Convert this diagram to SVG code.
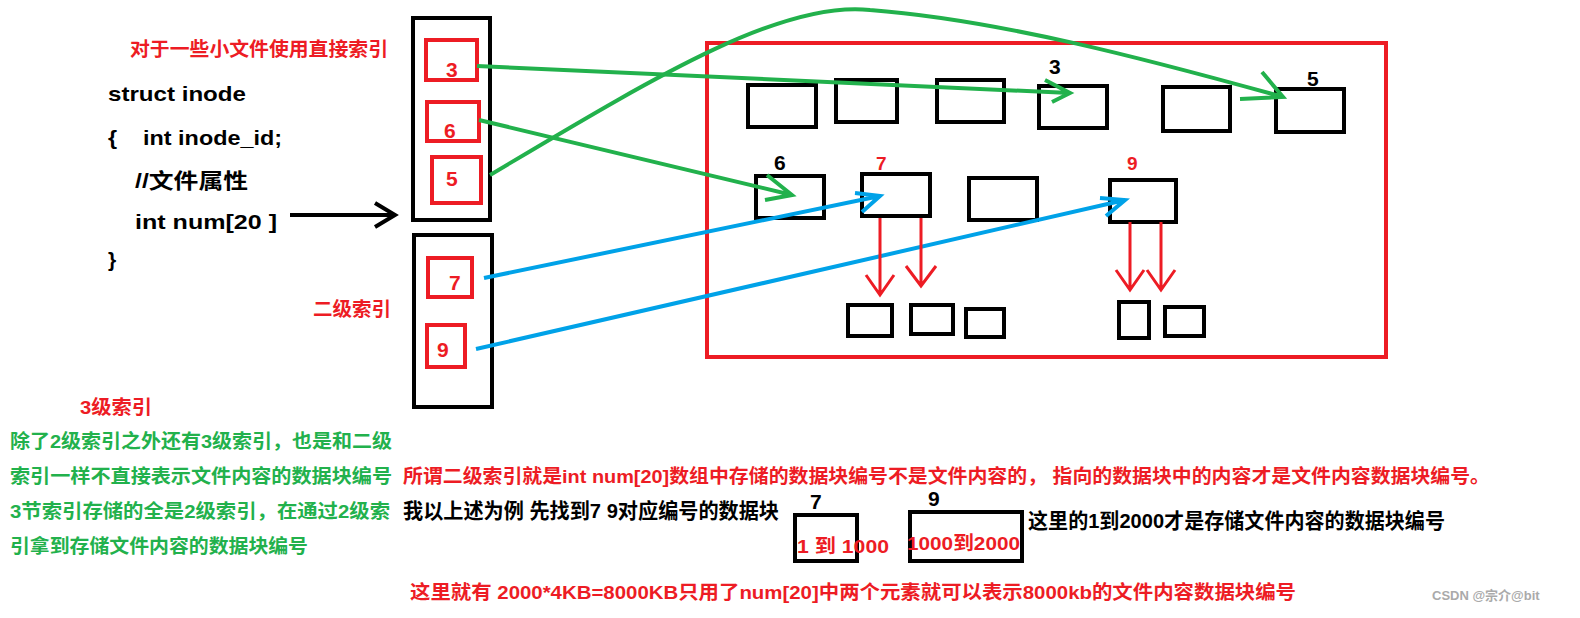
<svg xmlns="http://www.w3.org/2000/svg" width="1580" height="618" viewBox="0 0 1580 618">
<style>
text{font-family:"Liberation Sans","Noto Sans CJK SC",sans-serif;font-weight:bold}
.k{fill:#000;font-size:21px}
.r{fill:#ED1C24;font-size:19px}
.g{fill:#22B14C;font-size:19px}
.n{font-size:21px}
.bk{fill:none;stroke:#000;stroke-width:4}
.rd{fill:none;stroke:#ED1C24;stroke-width:4}
.gl{fill:none;stroke:#22B14C;stroke-width:4}
.bl{fill:none;stroke:#00A2E8;stroke-width:4}
.rl{fill:none;stroke:#ED1C24;stroke-width:3}
.bkl{fill:none;stroke:#000;stroke-width:4}
</style>
<rect width="1580" height="618" fill="#fff"/>
<g id="texts-left">
<text class="r" x="130" y="56" textLength="258" lengthAdjust="spacingAndGlyphs">对于一些小文件使用直接索引</text>
<text class="k" x="108" y="101" textLength="138" lengthAdjust="spacingAndGlyphs">struct inode</text>
<text class="k" x="108" y="145" xml:space="preserve" textLength="174" lengthAdjust="spacingAndGlyphs">{    int inode_id;</text>
<text class="k" x="135" y="188" textLength="113" lengthAdjust="spacingAndGlyphs">//文件属性</text>
<text class="k" x="135" y="229" textLength="142" lengthAdjust="spacingAndGlyphs">int num[20 ]</text>
<text class="k" x="108" y="267">}</text>
<text class="r" x="313" y="316" textLength="78" lengthAdjust="spacingAndGlyphs">二级索引</text>
<text class="r" x="80" y="414" textLength="72" lengthAdjust="spacingAndGlyphs">3级索引</text>
<text class="g" x="10" y="448" textLength="382" lengthAdjust="spacingAndGlyphs">除了2级索引之外还有3级索引，也是和二级</text>
<text class="g" x="10" y="483" textLength="382" lengthAdjust="spacingAndGlyphs">索引一样不直接表示文件内容的数据块编号</text>
<text class="g" x="10" y="518" textLength="380" lengthAdjust="spacingAndGlyphs">3节索引存储的全是2级索引，在通过2级索</text>
<text class="g" x="10" y="553" textLength="298" lengthAdjust="spacingAndGlyphs">引拿到存储文件内容的数据块编号</text>
</g>
<g id="inode-box">
<rect class="bk" x="413" y="18" width="77" height="202"/>
<rect class="rd" x="426" y="40" width="51" height="40"/><text class="r n" x="446" y="77">3</text>
<rect class="rd" x="427" y="102" width="52" height="39"/><text class="r n" x="444" y="138">6</text>
<rect class="rd" x="432" y="157" width="49" height="46"/><text class="r n" x="446" y="186">5</text>
</g>
<g id="second-box">
<rect class="bk" x="414" y="235" width="78" height="172"/>
<rect class="rd" x="428" y="258" width="44" height="39"/><text class="r n" x="449" y="290">7</text>
<rect class="rd" x="427" y="325" width="38" height="42"/><text class="r n" x="437" y="357">9</text>
</g>
<g id="disk">
<rect class="rd" x="707" y="43" width="679" height="314"/>
<rect class="bk" x="748" y="85" width="68" height="42"/>
<rect class="bk" x="836" y="80" width="61" height="42"/>
<rect class="bk" x="937" y="80" width="67" height="42"/>
<rect class="bk" x="1039" y="86" width="68" height="42"/>
<rect class="bk" x="1163" y="87" width="67" height="44"/>
<rect class="bk" x="1276" y="89" width="68" height="43"/>
<rect class="bk" x="756" y="176" width="68" height="42"/>
<rect class="bk" x="862" y="174" width="68" height="42"/>
<rect class="bk" x="969" y="178" width="68" height="42"/>
<rect class="bk" x="1110" y="180" width="66" height="42"/>
<rect class="bk" x="848" y="305" width="44" height="31"/>
<rect class="bk" x="911" y="305" width="42" height="29"/>
<rect class="bk" x="966" y="309" width="38" height="28"/>
<rect class="bk" x="1119" y="302" width="30" height="36"/>
<rect class="bk" x="1165" y="307" width="39" height="29"/>
<text class="k" x="1049" y="74" font-size="18">3</text>
<text class="k" x="1307" y="86" font-size="18">5</text>
<text class="k" x="774" y="170" font-size="18">6</text>
<text class="r" x="876" y="170" font-size="19">7</text>
<text class="r" x="1127" y="170" font-size="19">9</text>
</g>
<g id="connectors">
<path class="bkl" d="M290 215H395M375 203L395 215L375 227"/>
<path class="gl" d="M477 66L1070 93M1045 80L1070 93L1052 102"/>
<path class="gl" d="M479 120L792 195M767 175L792 195L765 200"/>
<path class="gl" d="M490 175C650 80 780 0 870 10C1000 20 1150 60 1283 97M1262 72L1283 97L1240 99"/>
<path class="bl" d="M484 278L880 196M855 193L880 196L862 212"/>
<path class="bl" d="M476 349L1125 200M1100 198L1125 200L1106 216"/>
<path class="rl" d="M880 218V295M866 275L880 295L894 275"/>
<path class="rl" d="M921 218V286M906 266L921 286L936 266"/>
<path class="rl" d="M1130 222V290M1116 270L1130 290L1144 270"/>
<path class="rl" d="M1161 222V290M1147 270L1161 290L1175 270"/>
</g>
<g id="texts-bottom">
<text class="r" x="403" y="483" textLength="1087" lengthAdjust="spacingAndGlyphs">所谓二级索引就是int num[20]数组中存储的数据块编号不是文件内容的， 指向的数据块中的内容才是文件内容数据块编号。</text>
<text class="k" x="403" y="518" font-size="18" textLength="376" lengthAdjust="spacingAndGlyphs">我以上述为例 先找到7 9对应编号的数据块</text>
<text class="k" x="810" y="509" font-size="18">7</text>
<text class="k" x="928" y="506" font-size="18">9</text>
<rect class="bk" x="795" y="515" width="62" height="46"/>
<rect class="bk" x="910" y="512" width="112" height="49"/>
<text class="r" x="797" y="553" font-size="19" textLength="92" lengthAdjust="spacingAndGlyphs">1 到 1000</text>
<text class="r" x="907" y="550" font-size="19" textLength="113" lengthAdjust="spacingAndGlyphs">1000到2000</text>
<text class="k" x="1028" y="528" font-size="18" textLength="417" lengthAdjust="spacingAndGlyphs">这里的1到2000才是存储文件内容的数据块编号</text>
<text class="r" x="410" y="599" textLength="886" lengthAdjust="spacingAndGlyphs">这里就有 2000*4KB=8000KB只用了num[20]中两个元素就可以表示8000kb的文件内容数据块编号</text>
<text x="1432" y="600" font-size="13" fill="#aaa" font-weight="normal">CSDN @宗介@bit</text>
</g>
</svg>
